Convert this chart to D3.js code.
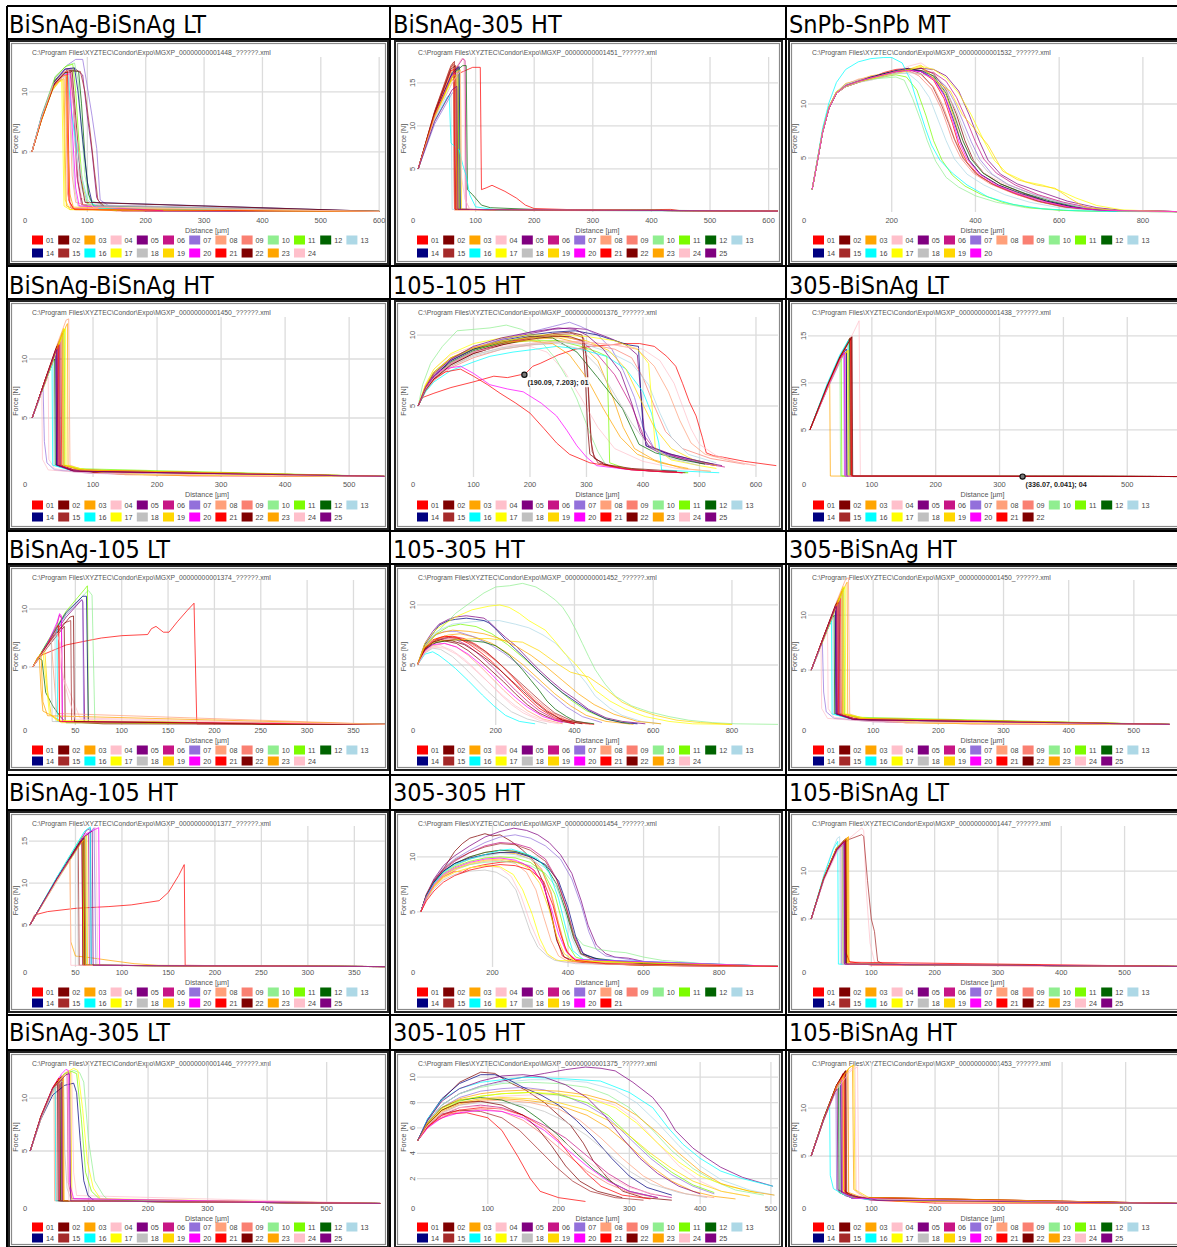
<!DOCTYPE html>
<html>
<head>
<meta charset="utf-8">
<script src="https://cdn.jsdelivr.net/npm/d3@7"></script>
<style>
body { margin: 0; background: #fff; }
svg { display: block; }
</style>
</head>
<body>
<div id="chart"></div>
<script>
// legend colours 01..25 (Condor default palette)
const seriesColors = ["#FF0000","#800000","#FFA500","#FFC0CB","#800080","#C71585","#9370DB","#FFA07A","#FA8072","#90EE90",
  "#7CFC00","#006400","#ADD8E6","#000080","#A52A2A","#00FFFF","#FFFF00","#C0C0C0","#FFD700","#FF00FF",
  "#FF0000","#800000","#FFA500","#FFC0CB","#800080"];

const panelTitles = ["BiSnAg-BiSnAg LT","BiSnAg-305 HT","SnPb-SnPb MT",
  "BiSnAg-BiSnAg HT","105-105 HT","305-BiSnAg LT",
  "BiSnAg-105 LT","105-305 HT","305-BiSnAg HT",
  "BiSnAg-105 HT","305-305 HT","105-BiSnAg LT",
  "BiSnAg-305 LT","305-105 HT","105-BiSnAg HT"];
const panelFiles = ["1448","1451","1532","1450","1376","1438","1374","1452","1450","1377","1454","1447","1446","1375","1453"];
const panelXMax = [610,616,903,556,639,592,384,917,580,383,956,597,598,510,595];
const panelYMax = [12.9,18.0,14.35,13.56,11.27,17.0,12.5,12.08,13.2,16.8,12.8,14.7,13.4,11.2,14.8];
const panelXTicks = [
  [0,100,200,300,400,500,600],[0,100,200,300,400,500,600],[0,200,400,600,800],
  [0,100,200,300,400,500],[0,100,200,300,400,500,600],[0,100,200,300,400,500],
  [0,50,100,150,200,250,300,350],[0,200,400,600,800],[0,100,200,300,400,500],
  [0,50,100,150,200,250,300,350],[0,200,400,600,800],[0,100,200,300,400,500],
  [0,100,200,300,400,500],[0,100,200,300,400,500],[0,100,200,300,400,500]];
const panelYTicks = [
  [5,10],[5,10,15],[5,10],
  [5,10],[5,10],[5,10,15],
  [5,10],[5,10],[5,10],
  [5,10,15],[5,10],[5,10],
  [5,10],[2,4,6,8,10],[5,10]];

// hover readouts visible in two panels
const markerPanel = [4, 5];
const markerPoint = [[190.09, 7.203], [336.07, 0.041]];
const markerText = ["(190.09, 7.203); 01", "(336.07, 0.041); 04"];

// curves: [distance µm, force N, ...] per series 01..n
const p01Curves = [
  [5,5,20,7.6,40,10.4,58,11.5,64,11.7,66,6,68,1,75,0.3,150,0.1,600,0.05],
  [5,5,22,7.9,42,10.6,60,11.6,72,11.6,78,8,84,2.5,92,0.6,160,0.1,600,0.05],
  [5,5,20,7.5,40,10.2,55,11,60,11.1,62,5,64,0.5,80,0.2,600,0.05],
  [5,5,22,7.8,45,10.8,65,11.9,72,12,76,9,82,4,90,1.2,110,0.3,230,0.1],
  [5,5,22,7.9,45,10.9,62,11.9,80,11.9,92,11.4,100,8,108,5,116,1.2,125,0.5,200,0.1,600,0.05],
  [5,5,20,7.6,40,10.4,58,11.4,70,11.7,76,9,82,3,90,0.6,600,0.05],
  [5,5,22,8.1,45,11.2,65,12.2,80,12.7,92,12.7,98,11,108,8,116,5.3,122,1,140,0.4,230,0.1,600,0.05],
  [5,5,20,7.6,42,10.5,60,11.6,66,11.8,70,8,74,3,80,0.8,130,0.2,600,0.05],
  [5,5,21,7.7,43,10.6,58,11.3,62,11.4,64,7,66,1.5,72,0.3,600,0.05],
  [5,5,22,8.1,45,11.3,65,12.2,78,12.4,84,11,90,7,96,3,104,1,150,0.2,600,0.05],
  [5,5,22,8.0,45,11.2,62,12.1,75,12.3,80,10,86,5.5,92,2.2,100,0.7,150,0.1],
  [5,5,22,7.9,45,10.9,65,11.8,85,11.7,90,9,96,4.5,102,1.5,110,0.5,600,0.05],
  [5,5,21,7.7,42,10.5,60,11.5,68,11.6,72,9,80,5,90,2,100,0.6,600,0.05],
  [5,5,22,8,45,11,62,11.9,78,12,84,10,92,6,100,2.5,108,0.8,600,0.05],
  [5,5,22,7.9,45,10.9,65,11.8,88,11.7,96,10,104,7,112,3.5,118,1,130,0.4,230,0.1],
  [5,5,20,7.7,42,10.6,58,11.5,66,11.6,72,8.5,80,6,90,3,100,1,120,0.3,600,0.05],
  [5,5,20,7.4,38,9.9,48,10.8,56,10.9,58,6,60,0.5,70,0.2,600,0.05],
  [5,5,21,7.6,42,10.4,58,11.2,66,11.3,72,7,78,2,84,0.5,600,0.05],
  [5,5,20,7.5,40,10.1,52,10.9,58,11,60,7,62,1,70,0.2,600,0.05],
  [5,5,21,7.7,42,10.5,60,11.4,70,11.5,74,7,80,2,86,0.5,230,0.1],
  [5,5,21,7.6,42,10.5,60,11.6,66,11.7,68,5,70,0.8,78,0.2,600,0.05],
  [5,5,22,7.8,44,10.7,62,11.6,74,11.7,80,8,88,3,96,0.8,600,0.05],
  [5,5,20,7.5,40,10.3,58,11.3,64,11.4,66,6,70,1.5,76,0.4,600,0.05],
  [5,5,20,7.7,42,10.7,62,11.7,68,11.8,74,9.5,82,6,90,3,98,1.2,110,0.4,600,0.05]];

const p02Curves = [
  [2,5,30,11,55,15,75,16.2,95,16.8,108,16.8,110,2.6,118,2.8,128,3.1,150,2.4,170,1.6,185,0.8,200,0.4,300,0.2,433,0.3,450,0.15,620,0.1],
  [2,5,30,11.6,58,16.8,62,17.2,64,0.3,620,0.1],
  [2,5,30,11.3,60,16.4,70,17,72,0.3,620,0.1],
  [2,5,30,11,60,16,76,17.8,80,17.8,82,1.5,90,0.3,620,0.1],
  [2,5,30,11.2,60,15.8,70,16.8,72,0.3,620,0.1],
  [2,5,30,11.1,60,16,78,17.8,82,17.6,84,0.3,620,0.1],
  [2,5,30,10.2,60,13.8,68,14.3,70,0.3,620,0.1],
  [2,5,30,11.6,55,16.5,62,17.4,64,0.2,620,0.1],
  [2,5,30,11.5,58,16.7,64,17.1,66,0.3,620,0.1],
  [2,5,30,11,60,15.8,72,16.6,74,0.3,620,0.1],
  [2,5,30,11,60,15.6,70,16,72,0.3,620,0.1],
  [2,5,30,11.2,60,16,78,17,84,17,86,2.6,95,2,110,0.8,125,0.5,200,0.3,620,0.1],
  [2,5,30,10.6,55,13.6,58,13.8,60,0.3,620,0.1],
  [2,5,30,11.3,60,16.2,72,16.9,74,0.3,620,0.1],
  [2,5,30,11.7,58,17,64,17.5,66,0.3,620,0.1],
  [2,5,30,10.6,52,13.4,55,13.5,58,8,65,7.6,72,7.2,78,5.5,84,4.2,90,2,100,0.6,140,0.2,620,0.1],
  [2,5,30,11,60,15.4,68,15.6,70,0.3,620,0.1],
  [2,5,30,10.8,60,15,66,15.3,68,0.3,620,0.1],
  [2,5,30,11.1,60,15.8,74,16.5,76,0.3,620,0.1],
  [2,5,30,11.2,60,15.9,66,16.2,68,0.3,620,0.1],
  [2,5,30,11.4,58,16.4,63,16.6,65,0.3,620,0.1],
  [2,5,30,11.5,58,16.6,66,17,68,0.3,620,0.1],
  [2,5,30,11.2,60,15.7,66,15.9,68,0.3,620,0.1],
  [2,5,30,10.8,60,15,74,16.4,76,4,82,1.5,90,0.3,620,0.1],
  [2,5,30,10.5,60,14.2,68,14.6,70,0.3,620,0.1]];

const p03Curves = [
  [10,2.1,22,4.7,35,7.5,50,9.7,68,11.1,90,11.7,120,12.2,150,12.4,180,12.9,210,13.2,240,13.3,270,13.0,300,12.2,325,10.5,345,8.2,360,6.2,380,4.6,410,3.3,450,2.4,500,1.6,560,0.9,620,0.45,700,0.15,800,0.05,900,0.03],
  [10,2.1,22,4.6,35,7.4,50,9.6,68,11.0,90,11.6,120,12.0,150,12.5,180,12.6,210,13.0,240,13.2,270,13.3,300,12.8,330,11.3,355,9.0,375,6.6,395,4.8,420,3.6,460,2.6,510,1.8,570,1.0,640,0.4,720,0.12,820,0.04,900,0.03],
  [10,2.1,22,4.6,35,7.5,50,9.7,68,11.1,90,11.9,120,12.2,150,12.6,180,12.8,210,13.1,240,13.0,270,13.4,300,12.5,330,10.8,350,8.6,365,6.5,385,4.7,415,3.4,455,2.5,505,1.7,565,1.0,630,0.4,710,0.12,900,0.03],
  [10,2.1,22,4.7,35,7.5,50,9.6,68,11.0,90,11.7,120,12.1,150,12.5,180,12.8,210,13.0,240,13.5,270,13.8,300,13.0,330,11.5,352,9.0,370,6.6,392,4.9,420,3.6,470,2.6,530,1.8,600,1.0,670,0.4,740,0.12,900,0.03],
  [10,2.1,22,4.6,35,7.4,50,9.6,68,11.0,90,11.6,120,12.0,150,12.3,180,12.6,210,12.9,240,13.1,270,13.3,300,13.2,330,12.6,360,11.2,385,9.0,410,6.5,430,4.8,460,3.5,500,2.6,560,1.8,620,1.0,690,0.4,760,0.12,900,0.03],
  [10,2.1,22,4.7,35,7.5,50,9.7,68,11.1,90,11.8,120,12.1,150,12.4,180,12.7,210,13.0,240,13.2,270,13.1,300,12.9,330,12.1,355,10.6,378,8.6,400,6.5,420,4.9,450,3.6,495,2.5,550,1.6,610,0.9,680,0.35,760,0.1,900,0.03],
  [10,2.1,22,4.6,35,7.4,50,9.6,68,11.0,90,11.7,120,12.1,150,12.3,180,12.7,210,12.9,240,13.2,270,13.0,300,12.6,330,11.6,350,10.2,370,8.4,390,6.5,410,4.9,440,3.5,480,2.5,540,1.6,600,0.9,670,0.35,750,0.1,900,0.03],
  [10,2.1,22,4.7,35,7.5,50,9.7,68,11.1,90,11.8,120,12.3,150,12.5,180,12.8,210,13.1,240,13.0,270,12.7,300,11.6,322,9.9,338,8.2,350,6.8,372,5.0,400,3.6,440,2.6,490,1.8,550,1.0,610,0.45,690,0.15,900,0.03],
  [10,2.1,22,4.6,35,7.4,50,9.6,68,11.0,90,11.7,120,12.1,150,12.5,180,12.7,210,12.9,240,13.1,265,12.6,295,11.4,318,9.6,333,8.0,345,6.6,365,5.0,395,3.6,435,2.6,485,1.8,545,1.0,610,0.45,690,0.15,900,0.03],
  [10,2.1,22,4.7,35,7.5,50,9.7,68,11.1,90,11.8,120,12.1,150,12.3,180,12.4,210,12.5,230,12.2,250,10.5,270,8.4,285,6.6,305,4.7,330,3.2,360,2.3,400,1.5,450,0.9,520,0.4,600,0.15,700,0.05,900,0.03],
  [10,2.1,22,4.7,35,7.5,50,9.7,68,11.1,90,11.7,120,12.1,150,12.3,180,12.5,210,12.7,235,12.5,260,11.3,282,8.9,300,6.6,320,4.8,345,3.4,375,2.4,415,1.6,465,0.9,530,0.4,610,0.15,700,0.05,900,0.03],
  [10,2.1,22,4.6,35,7.4,50,9.6,68,11.0,90,11.7,120,12.1,150,12.4,180,12.8,210,13.0,240,13.2,270,13.1,300,12.6,330,11.0,350,8.9,370,6.6,390,4.9,418,3.6,460,2.6,520,1.7,580,1.0,650,0.4,730,0.12,900,0.03],
  [10,2.1,22,4.7,35,7.5,50,9.7,68,11.1,90,11.8,120,12.2,150,12.4,180,12.6,210,12.9,240,12.8,265,12.0,290,10.6,310,8.6,330,6.6,350,4.9,380,3.5,420,2.5,470,1.6,530,0.9,600,0.4,680,0.12,900,0.03],
  [10,2.1,22,4.6,35,7.4,50,9.6,68,11.0,90,11.7,120,12.1,150,12.5,180,12.8,210,13.1,240,13.3,270,13.0,300,12.4,325,10.9,345,8.8,365,6.5,385,4.8,412,3.5,455,2.5,510,1.7,570,1.0,640,0.4,720,0.12,900,0.03],
  [10,2.1,22,4.6,35,7.4,50,9.6,68,11.0,90,11.6,120,12.0,150,12.4,180,12.7,210,13.0,240,13.2,270,12.8,298,11.6,320,9.8,336,8.2,350,6.7,370,5.0,400,3.6,440,2.6,490,1.8,550,1.0,615,0.45,700,0.15,900,0.03],
  [10,2.1,22,4.8,35,7.8,50,10.1,68,12.0,90,13.2,120,13.9,150,14.2,180,14.3,200,14.3,225,13.8,245,12.2,265,9.6,280,7.8,295,6.2,315,4.8,345,3.6,380,2.5,430,1.4,490,0.7,560,0.3,640,0.12,740,0.05,900,0.03],
  [10,2.1,22,4.6,35,7.4,50,9.6,68,11.0,90,11.6,120,12.0,150,12.3,180,12.6,210,12.8,240,13.1,270,13.5,300,13.2,330,12.4,360,11.0,390,9.0,420,6.6,445,4.8,475,3.6,520,2.8,560,2.5,600,2.0,640,1.3,690,0.6,750,0.2,850,0.05,900,0.03],
  [10,2.1,22,4.6,35,7.4,50,9.6,68,11.0,90,11.6,120,12.0,150,12.2,180,12.5,210,12.8,240,12.9,270,12.8,300,12.4,330,11.2,355,9.3,380,6.8,400,5.1,430,3.7,470,2.7,525,1.8,590,1.0,660,0.4,740,0.12,900,0.03],
  [10,2.1,22,4.7,35,7.5,50,9.7,68,11.1,90,11.7,120,12.1,150,12.4,180,12.7,210,13.0,240,13.2,270,13.6,306,12.1,340,11.2,369,9.0,400,7.6,430,6.2,465,3.8,500,3.0,545,2.5,590,2.2,624,1.3,664,0.4,744,0.1,900,0.03],
  [10,2.1,22,4.6,35,7.4,50,9.6,68,11.0,90,11.7,120,12.1,150,12.4,180,12.7,210,13.0,240,13.1,270,13.0,300,12.3,328,10.6,346,8.4,360,6.6,380,4.9,410,3.5,450,2.5,500,1.7,560,1.0,625,0.45,700,0.15,900,0.03]];

const p04Curves = [
  [5,5,25,8.1,45,11.2,50,11.8,51,1,70,0.6,120,0.3,250,0.1,555,0.05],
  [5,5,25,8.2,45,11.3,48,11.6,49,1,70,0.5,120,0.3,555,0.05],
  [5,5,25,8,45,11,58,12.8,60,13,61,1,80,0.6,150,0.2,555,0.05],
  [5,5,20,7.2,30,8.5,31,1.5,40,0.7,100,0.3,555,0.05],
  [5,5,25,8.1,40,10.5,42,10.8,43,1,70,0.5,555,0.05],
  [5,5,25,8.1,44,11,47,11.4,48,1,70,0.6,555,0.05],
  [5,5,15,6.4,22,7.6,24,3,28,1.2,40,0.6,100,0.3,555,0.05],
  [5,5,25,8.2,45,11.4,58,13.3,62,13.4,64,1,80,0.7,150,0.2,555,0.05],
  [5,5,25,8.1,45,11.2,53,12.4,54,1,80,0.6,555,0.05],
  [5,5,25,8.0,45,11.0,52,12.1,53,1,80,0.6,555,0.05],
  [5,5,25,8.1,45,11.1,55,12.5,56,1,80,0.7,555,0.05],
  [5,5,25,8,38,9.8,40,10,41,1,70,0.5,555,0.05],
  [5,5,25,8.1,36,9.6,38,9.8,39,1,70,0.5,555,0.05],
  [5,5,25,8.1,40,10.3,42,10.5,43,1,70,0.5,555,0.05],
  [5,5,25,8.2,45,11.2,46,11.3,47,1,70,0.6,555,0.05],
  [5,5,25,8.0,35,9.4,36,9.5,37,1,70,0.5,555,0.05],
  [5,5,25,8.0,45,11,56,12.5,57,12.6,58,1,90,0.6,180,0.2,555,0.05],
  [5,5,25,8.0,44,10.8,46,11,47,1,70,0.5,555,0.05],
  [5,5,25,8.0,45,11.1,54,12.6,55,1,80,0.6,555,0.05],
  [5,5,25,8.1,42,10.8,44,11,45,1,70,0.5,555,0.05],
  [5,5,25,8.2,44,11,46,11.2,47,1,70,0.5,555,0.05],
  [5,5,25,8.2,42,10.9,44,11.1,45,1,70,0.5,555,0.05],
  [5,5,25,8.1,45,11.1,52,12.2,53,1,80,0.6,555,0.05],
  [5,5,15,6.5,20,7.2,21,1.5,30,0.6,100,0.3,555,0.05],
  [5,5,25,8.1,40,10.4,43,10.8,44,1,70,0.5,555,0.05]];

const p05Curves = [
  [2,5,10,5.6,30,5.9,60,6.3,100,6.7,136,7.1,160,7.0,183,7.2,190,7.2,205,7.8,218,8.0,250,8.6,280,9.0,306,9.2,340,9.3,364,9.4,394,9.4,420,9.2,442,8.5,458,7.8,470,6.6,482,5.3,494,4.3,505,2.8,512,1.7,525,1.5,541,1.4,580,1.1,636,0.8],
  [2,5,15,6.1,30,6.9,60,7.9,100,8.7,150,9.3,200,9.8,240,10.1,270,10.2,292,10.0,300,8.5,304,5.5,308,2.5,314,1.3,340,0.8,366,0.6,420,0.4,470,0.3],
  [2,5,15,6.3,30,7.2,60,8.3,100,9.0,150,9.5,200,9.7,250,9.8,290,9.4,320,8.2,345,5.8,365,3.5,385,2,420,1.2,470,0.6,520,0.4],
  [2,5,15,6.5,30,7.6,60,8.6,100,9.2,150,9.4,200,9.2,230,8.8,260,7.5,290,5.6,320,3.5,350,2.0,400,1.1,460,0.6,520,0.4],
  [2,5,15,6.2,30,7.1,60,8.2,100,9.0,150,9.7,200,10.1,240,10.4,270,10.5,300,10.4,340,9.8,370,9.3,390,8.6,396,6.0,400,4.2,405,2.2,430,1.7,470,1.3,500,1.0,530,0.8],
  [2,5,15,6.2,30,7.0,60,8.0,100,8.8,150,9.4,200,9.8,250,10.0,290,9.6,320,8.6,350,7.2,380,5.0,400,3.0,420,2.0,460,1.4,500,1.0,545,0.7],
  [2,5,15,6.3,30,7.2,60,8.3,100,9.1,150,9.7,200,10.2,240,10.6,270,10.9,290,10.6,320,10.0,345,9.0,365,7.5,385,5.6,400,3.5,420,2.0,460,1.3,520,0.9],
  [2,5,15,6.1,30,6.9,60,7.8,100,8.6,150,9.1,200,9.4,250,9.6,300,9.5,350,9.3,390,9.0,420,7.8,445,6.0,465,4.0,485,2.4,510,1.6,560,1.1,600,0.8],
  [2,5,15,6.0,30,6.8,60,7.7,100,8.4,150,9.0,200,9.3,250,9.5,300,9.4,350,9.0,380,8.4,400,7.0,420,5.0,440,3.2,470,2.0,520,1.3,580,0.9],
  [2,5,10,6.5,24,8.0,45,9.2,71,10.3,100,10.4,129,10.5,158,10.7,185,10.4,205,10.0,225,9.3,246,8.3,265,7.0,283,5.5,306,3.1,320,1.8,335,0.8,380,0.5,480,0.3],
  [2,5,15,6.4,30,7.4,60,8.4,100,9.0,150,9.4,200,9.6,250,9.6,290,9.2,320,8.8,336,8.5,339,4.5,341,1.0,370,0.6,420,0.4,480,0.3],
  [2,5,15,6.2,30,7.1,60,8.1,100,8.9,150,9.5,200,9.9,240,9.8,283,8.8,320,7.0,364,4.8,393,2.3,422,1.7,470,1.2,510,0.9],
  [2,5,15,6.1,30,7.0,60,7.9,100,8.6,150,9.1,200,9.4,250,9.5,300,9.3,340,8.8,380,8.0,410,6.5,430,4.5,450,2.8,480,1.6,530,1.0],
  [2,5,15,6.2,30,7.1,60,8.2,100,9.0,150,9.6,200,10.0,240,10.2,280,10.3,320,10.0,350,9.6,375,9.3,392,9.2,396,6.0,400,3.6,406,2.2,440,1.7,480,1.3,525,0.9],
  [2,5,15,6.2,30,7.0,60,8.0,100,8.8,150,9.4,200,9.9,240,10.0,275,10.1,295,9.8,302,7.5,306,4.0,310,1.8,320,1.0,360,0.6,420,0.4,475,0.3],
  [2,5,15,6.0,30,6.7,60,7.5,100,8.1,129,8.5,170,8.8,210,9.0,247,9.2,290,9.0,335,8.5,370,7.6,400,6.0,415,4.5,428,2.4,433,0.5,480,0.4,535,0.3],
  [2,5,15,6.5,30,7.6,60,8.7,100,9.4,150,9.8,200,10.0,250,10.0,300,9.9,350,9.6,390,9.0,410,8.0,416,5.0,422,2.0,450,1.2,500,0.8,530,0.6],
  [2,5,15,6.1,30,6.9,60,7.8,100,8.5,150,9.0,200,9.3,250,9.4,290,9.0,320,7.8,350,5.8,380,3.8,410,2.2,450,1.3,500,0.8],
  [2,5,15,6.3,30,7.3,60,8.4,100,9.1,150,9.6,200,9.8,250,9.9,300,9.6,340,8.9,370,7.6,395,5.5,420,3.5,450,2.0,490,1.2,530,0.8],
  [2,5,15,6.3,30,7.1,41,7.5,60,7.7,77,7.8,100,7.3,129,6.5,160,6.2,188,6.0,220,5.2,247,4.3,265,3.3,283,2.2,300,1.4,318,0.8,380,0.5,470,0.3],
  [2,5,15,6.2,30,6.9,50,7.4,77,7.6,100,7.1,125,6.5,147,5.9,175,5.2,200,4.5,225,3.4,247,2.4,270,1.6,306,1.0,380,0.5,470,0.3],
  [2,5,15,6.1,30,6.9,60,7.9,100,8.7,150,9.3,200,9.7,240,9.9,270,9.9,293,9.6,298,7.0,302,3.5,306,1.6,330,0.9,380,0.6,460,0.4],
  [2,5,15,6.4,30,7.4,60,8.4,100,9.1,150,9.5,200,9.6,240,9.4,270,8.6,300,7.0,330,4.8,360,2.8,390,1.6,430,1.0,480,0.6],
  [2,5,15,6.2,30,7.0,60,8.0,100,8.8,150,9.2,200,9.4,250,9.5,300,9.5,350,9.3,400,9.0,430,8.2,455,6.6,470,5.0,485,3.4,500,2.3,530,1.5,570,1.0,600,0.8],
  [2,5,15,6.3,30,7.3,60,8.3,100,9.2,150,9.8,200,10.2,250,10.5,280,10.4,300,10.0,330,9.0,360,7.4,380,5.2,395,3.2,410,2.2,450,1.6,500,1.1,540,0.8]];

const p06Curves = [
  [3,5,30,9.6,50,12.7,66,14.8,67,0.1,592,0.05],
  [3,5,30,9.7,50,12.8,68,14.9,69,0.1,592,0.05],
  [3,5,20,8,34,10.2,35,0.1,592,0.05],
  [3,5,30,9.3,55,13.2,70,15.2,80,16.6,82,0.1,592,0.04],
  [3,5,30,9.5,50,12.5,60,13.3,61,0.1,592,0.05],
  [3,5,30,9.4,50,12.4,58,13.2,59,0.1,592,0.05],
  [3,5,30,9.3,50,12.2,56,13,57,0.1,592,0.05],
  [3,5,30,9.5,50,12.6,64,14.2,65,0.1,140,0.15,160,0.1,592,0.05],
  [3,5,30,9.6,50,12.7,66,14.6,68,0.1,592,0.05],
  [3,5,30,9.4,48,12.2,50,12.4,51,0.1,592,0.05],
  [3,5,30,9.5,48,12.3,52,12.8,53,0.1,592,0.05],
  [3,5,30,9.7,50,12.8,65,14.7,66,0.1,592,0.05],
  [3,5,30,9.8,50,12.9,62,14.2,63,0.1,592,0.05],
  [3,5,30,9.5,50,12.6,60,13.6,61,0.1,592,0.05],
  [3,5,30,9.6,50,12.7,67,14.8,68,0.1,592,0.05],
  [3,5,30,9.9,50,13,63,14.5,64,0.1,592,0.05],
  [3,5,30,9.4,50,12.4,62,13.4,63,0.1,592,0.05],
  [3,5,30,9.4,50,12.4,58,13,59,0.1,592,0.05],
  [3,5,30,9.4,50,12.5,63,13.5,64,0.1,592,0.05],
  [3,5,30,9.4,50,12.5,57,13.2,58,0.1,592,0.05],
  [3,5,30,9.6,50,12.7,67,14.7,68,0.1,592,0.05],
  [3,5,30,9.7,50,12.8,69,14.9,70,0.1,592,0.05]];

const p07Curves = [
  [4,5,10,5.9,40,6.9,65,7.3,78,7.5,100,7.7,128,7.8,132,8.3,137,8.5,145,8.0,151,8.0,160,8.9,171,9.9,178,10.5,181,0.1,385,0.05],
  [4,5,20,6.7,35,8.2,38,8.5,39,0.3,80,0.1,385,0.05],
  [4,5,9,5.8,11,5.9,13,3,15,1.2,25,0.8,35,0.3,385,0.05],
  [4,5,20,6.9,32,8.4,34,5,38,3.9,45,2.6,55,0.6,385,0.05],
  [4,5,20,7.0,40,9.3,57,10.8,58,10.6,60,0.3,385,0.05],
  [4,5,20,7.1,30,8.6,33,9.5,35,9.2,36,0.3,385,0.05],
  [4,5,20,7.1,40,9.5,56,10.8,58,10.7,59,0.3,385,0.05],
  [4,5,18,6.8,24,7.4,26,5,30,1,385,0.05],
  [4,5,20,7,30,8.3,32,8.5,33,0.3,385,0.05],
  [4,5,20,7.1,40,9.6,60,11.3,64,11.6,68,11.2,71,0.3,385,0.05],
  [4,5,20,7.2,40,9.8,60,11.7,63,12.0,64,0.3,265,0.1,275,0.05,385,0.05],
  [4,5,10,5.8,14,5.6,18,2.8,26,1.6,34,0.7,40,0.2,385,0.05],
  [4,5,18,6.8,26,7.8,28,8,29,0.3,385,0.05],
  [4,5,20,7.1,40,9.7,58,11.1,62,11.1,64,0.3,385,0.05],
  [4,5,20,7,38,8.8,45,9,46,0.3,385,0.05],
  [4,5,18,6.8,28,8.2,30,8.4,31,0.3,385,0.05],
  [4,5,12,6.1,15,6.4,18,4,22,1,30,0.4,385,0.05],
  [4,5,18,6.7,24,7.2,25,0.3,385,0.05],
  [4,5,14,6.3,17,6.5,20,3,24,0.8,35,0.2,385,0.05],
  [4,5,20,7.0,30,8.8,33,9.6,35,9.4,36,0.3,385,0.05],
  [4,5,20,7.0,30,8.4,32,8.6,33,0.3,385,0.05],
  [4,5,20,6.9,44,9.3,48,9.4,49,0.3,240,0.1,250,0.05,385,0.05],
  [4,5,10,5.8,13,6.1,15,2,20,0.8,385,0.05],
  [4,5,20,6.8,30,7.9,34,7,37,4,42,2.5,50,0.5,385,0.05]];

const p08Curves = [
  [1,5,20,6.3,40,7.0,60,7.3,90,7.4,120,7.2,150,6.7,180,6.0,210,5.1,240,4.1,270,3.0,300,2.0,330,1.2,360,0.6,400,0.2,450,0.05],
  [1,5,20,6.2,40,6.8,70,7.0,100,6.8,130,6.2,160,5.4,190,4.5,220,3.6,250,2.6,280,1.7,310,1.0,350,0.4,400,0.1],
  [1,5,20,6.4,50,7.2,80,7.5,110,7.6,150,7.3,190,6.8,230,6.0,270,5.0,310,3.8,350,2.6,390,1.6,430,0.8,480,0.3,550,0.05],
  [1,5,20,6.0,40,6.5,60,6.6,90,6.2,120,5.5,150,4.6,180,3.6,210,2.6,240,1.7,270,1.0,310,0.4,360,0.1],
  [1,5,20,6.8,40,7.8,56,8.4,80,8.8,98,9.0,125,9.1,149,9.0,170,8.9,183,8.6,205,7.9,225,7.3,251,6.6,280,5.6,310,4.6,340,3.7,369,2.9,400,2.2,436,1.3,480,0.6,521,0.3,580,0.1],
  [1,5,20,6.3,40,6.9,70,7.2,100,7.1,130,6.6,160,5.8,190,4.9,220,3.9,250,2.9,280,2.0,310,1.2,350,0.5,400,0.1],
  [1,5,20,6.5,40,7.4,70,7.8,100,7.8,140,7.4,180,6.8,220,6.0,260,5.0,300,3.8,340,2.6,380,1.5,420,0.7,470,0.2],
  [1,5,20,6.1,40,6.6,70,6.8,100,6.5,130,5.8,160,4.9,190,3.9,220,2.9,250,2.0,280,1.2,320,0.5,370,0.1],
  [1,5,20,6.3,40,7.0,70,7.3,100,7.2,130,6.9,160,6.3,190,5.6,220,4.8,250,3.8,280,2.8,310,1.9,340,1.1,380,0.4,430,0.1],
  [1,5,20,6.6,56,7.9,98,9.3,140,10.3,170,11.0,200,11.5,235,11.6,268,11.8,302,11.5,327,11.0,352,10.4,370,9.8,386,9.0,404,7.9,420,6.8,436,5.7,453,4.6,478,3.4,504,2.4,545,1.6,589,1.1,640,0.7,690,0.4,750,0.2,808,0.1,920,0.05],
  [1,5,20,6.5,50,7.6,80,8.2,110,8.4,150,8.2,190,7.6,230,6.7,270,5.6,310,4.4,350,3.2,390,2.1,430,1.2,480,0.5,540,0.1],
  [1,5,20,6.3,50,6.9,98,7.1,141,7.0,170,6.9,200,6.6,235,5.8,268,4.6,290,3.7,310,2.9,330,2.0,352,1.3,380,0.7,403,0.3,450,0.1],
  [1,5,20,6.6,50,7.8,90,8.4,140,8.6,180,8.7,209,8.7,250,8.4,284,8.1,320,7.5,352,6.8,380,5.8,402,4.6,430,3.5,453,2.4,490,1.4,521,0.8,570,0.3,620,0.1],
  [1,5,20,6.7,56,8.3,80,8.7,98,8.8,125,8.9,149,8.8,170,8.7,183,8.5,200,8.0,225,7.1,251,6.3,280,5.4,310,4.4,340,3.5,369,2.7,400,2.0,436,1.2,480,0.5,521,0.2,560,0.1],
  [1,5,20,6.4,50,7.1,80,7.3,110,7.2,140,6.8,170,6.2,200,5.4,230,4.5,260,3.6,290,2.7,320,1.8,350,1.0,390,0.4,440,0.1],
  [1,5,20,5.9,40,6.1,56,5.8,80,5.2,98,4.7,130,3.7,166,2.5,195,1.6,225,0.8,260,0.3,300,0.1],
  [1,5,20,6.8,50,8.0,98,9.0,140,9.6,183,9.9,210,10.0,234,9.8,260,9.3,284,8.7,305,8.3,326,7.9,350,7.0,377,5.9,402,5.1,430,4.0,453,2.9,490,2.0,530,1.3,580,0.7,640,0.3,700,0.1,800,0.05],
  [1,5,20,6.0,40,6.4,60,6.3,90,5.7,120,4.8,150,3.8,180,2.8,210,1.9,240,1.1,280,0.5,330,0.1],
  [1,5,20,6.5,50,7.0,100,7.1,150,7.2,183,7.2,230,7.0,268,6.9,310,6.2,352,5.2,390,4.4,436,4.0,480,3.0,521,1.9,560,1.3,606,0.8,660,0.4,720,0.2,800,0.05],
  [1,5,20,6.2,40,6.7,70,6.8,100,6.5,130,5.9,160,5.1,190,4.2,220,3.2,250,2.3,280,1.5,320,0.7,370,0.2],
  [1,5,20,6.4,40,7.1,70,7.4,100,7.3,130,6.8,160,6.1,190,5.3,220,4.3,250,3.3,280,2.3,310,1.4,350,0.6,400,0.1],
  [1,5,20,6.3,40,6.9,60,7.1,90,7.0,120,6.7,150,6.1,180,5.4,210,4.6,240,3.7,270,2.8,300,1.9,330,1.1,370,0.4,420,0.1],
  [1,5,20,6.6,50,7.6,90,7.9,130,7.8,170,7.6,210,7.2,250,6.6,290,5.8,330,4.8,370,3.7,410,2.6,450,1.7,500,0.9,560,0.3,620,0.1],
  [1,5,20,6.1,40,6.5,70,6.4,100,5.9,130,5.1,160,4.2,190,3.3,220,2.4,250,1.6,290,0.8,340,0.2]];

// 305-BiSnAg HT was exported from the same test file (1450) as BiSnAg-BiSnAg HT
const p09Curves = p04Curves;

const p10Curves = [
  [1,5,6,6.2,20,6.6,51,7.0,86,7.2,110,7.4,122,7.6,140,7.9,150,8.9,161,10.9,167,12.2,168,0.2,260,0.1,384,0.05],
  [1,5,30,10.5,55,14.9,60,15.3,61,0.2,384,0.05],
  [1,5,30,10.3,44,13.0,45,3,50,1.3,60,1.2,86,0.8,113,0.4,139,0.2,384,0.05],
  [1,5,30,10.4,60,15.6,72,16.6,74,0.2,384,0.05],
  [1,5,30,10.6,62,16.3,66,16.5,67,0.2,384,0.05],
  [1,5,30,10.5,60,15.5,64,15.9,65,0.2,384,0.05],
  [1,5,30,10.4,60,15.4,70,16.6,72,0.2,384,0.05],
  [1,5,30,10.3,55,14.7,58,15.1,59,0.2,384,0.05],
  [1,5,30,10.4,56,14.9,59,15.3,60,0.2,384,0.05],
  [1,5,30,10.5,57,15.2,61,15.6,62,0.2,384,0.05],
  [1,5,30,10.6,56,15.4,58,15.6,59,0.2,384,0.05],
  [1,5,30,10.6,55,15.0,58,15.3,59,0.2,384,0.05],
  [1,5,30,10.7,60,16.2,65,16.6,66,0.2,384,0.05],
  [1,5,30,10.5,54,14.7,57,15.1,58,0.2,384,0.05],
  [1,5,30,10.4,50,14.0,53,14.4,54,0.2,384,0.05],
  [1,5,30,10.7,60,16.2,66,16.7,67,0.2,384,0.05],
  [1,5,30,10.3,55,14.6,58,15.0,59,0.2,384,0.05],
  [1,5,30,10.2,50,13.8,52,14.0,53,0.2,384,0.05],
  [1,5,30,10.4,55,14.8,62,15.7,63,0.2,384,0.05],
  [1,5,30,10.5,60,15.8,75,16.6,76,0.2,270,0.1,384,0.05],
  [1,5,30,10.4,55,14.8,57,15.0,58,0.2,384,0.05],
  [1,5,30,10.5,55,14.9,59,15.4,60,0.2,384,0.05],
  [1,5,30,10.4,55,14.7,60,15.2,61,0.2,384,0.05],
  [1,5,30,10.3,40,12.2,44,12.8,45,0.2,384,0.05],
  [1,5,30,10.5,60,15.6,68,16.2,69,0.2,384,0.05]];

const p11Curves = [
  [10,5,25,6.2,45,7.3,70,8.2,100,8.7,120,8.6,140,9.0,180,9.3,220,9.5,250,9.6,280,9.4,310,8.8,335,7.4,355,5.0,370,2.6,385,1.0,410,0.5,470,0.3,560,0.2,700,0.1,960,0.05],
  [10,5,25,6.5,45,7.8,70,8.9,100,10.5,120,11.2,140,11.7,160,11.9,180,12.1,200,11.9,220,12.0,250,11.4,280,10.6,310,9.6,335,7.6,355,4.8,370,2.4,390,0.9,420,0.5,500,0.3,600,0.15,960,0.05],
  [10,5,25,6.4,45,7.6,70,8.5,100,9.2,140,9.8,180,10.2,220,10.4,260,10.3,300,9.8,330,8.8,355,6.8,375,4.0,392,1.8,410,0.8,450,0.4,560,0.2,960,0.05],
  [10,5,25,6.2,45,7.2,70,8.0,100,8.6,140,9.0,180,9.2,220,9.0,250,8.2,275,6.5,300,4.0,325,2.0,350,1.0,380,0.5,450,0.3,960,0.05],
  [10,5,25,6.6,45,8.0,70,9.2,100,10.1,140,11.0,180,11.8,220,12.3,256,12.6,290,12.4,320,12.0,350,11.3,380,10.2,410,8.5,435,6.0,453,3.8,475,2.0,500,1.2,524,0.9,560,0.8,600,0.5,700,0.2,960,0.05],
  [10,5,25,6.5,45,7.8,70,8.8,100,9.6,140,10.4,180,11.0,220,11.3,260,11.2,300,10.8,340,9.8,370,8.0,395,5.5,415,3.0,435,1.4,460,0.8,520,0.5,600,0.3,960,0.05],
  [10,5,25,6.6,45,7.9,70,9.0,100,9.8,140,10.6,180,11.3,220,11.8,260,12.0,300,11.7,340,11.0,380,9.8,410,8.0,435,5.6,455,3.2,475,1.6,500,1.0,540,0.8,600,0.5,960,0.05],
  [10,5,25,6.3,45,7.4,70,8.2,100,8.8,140,9.3,180,9.6,220,9.7,260,9.4,290,8.6,315,7.0,335,4.6,355,2.4,375,1.0,400,0.5,960,0.05],
  [10,5,25,6.5,45,7.7,70,8.6,100,9.4,140,10.0,180,10.4,220,10.6,260,10.5,300,10.0,330,8.9,355,6.6,375,3.8,393,1.6,415,0.7,470,0.4,960,0.05],
  [10,5,25,6.3,45,7.5,70,8.3,100,8.9,140,9.3,180,9.5,220,9.6,260,9.5,300,9.2,340,8.5,370,7.2,395,5.0,415,3.0,440,2.0,480,1.6,520,1.4,553,1.3,600,0.9,650,0.6,693,0.5,760,0.3,960,0.05],
  [10,5,25,6.4,45,7.6,70,8.5,100,9.1,140,9.6,180,9.9,220,10.0,260,9.9,300,9.5,335,8.6,365,6.6,385,4.0,400,2.0,420,0.9,460,0.5,960,0.05],
  [10,5,25,6.5,45,7.7,70,8.7,100,9.4,140,10.0,180,10.4,220,10.6,260,10.5,300,10.1,340,9.2,370,7.5,395,5.0,415,2.6,435,1.2,470,0.8,520,0.6,600,0.3,960,0.05],
  [10,5,25,6.4,45,7.6,70,8.5,100,9.2,140,9.8,180,10.1,220,10.3,260,10.2,300,9.8,340,9.0,370,7.4,392,5.0,410,2.6,430,1.2,470,0.6,960,0.05],
  [10,5,25,6.5,45,7.7,70,8.7,100,9.4,140,9.9,180,10.2,220,10.4,260,10.4,300,10.0,340,9.3,375,7.8,400,5.4,420,2.8,440,1.2,480,0.7,540,0.5,960,0.05],
  [10,5,25,6.6,45,7.9,70,8.9,100,9.7,140,10.4,180,10.9,220,11.2,260,11.1,300,10.6,340,9.6,370,7.9,395,5.4,415,2.8,433,1.2,470,0.6,960,0.05],
  [10,5,25,6.4,45,7.6,70,8.6,100,9.3,140,9.8,180,10.2,220,10.6,250,10.7,280,10.4,320,9.8,350,8.6,375,6.2,395,3.4,412,1.5,440,0.7,960,0.05],
  [10,5,25,6.2,45,7.3,70,8.1,100,8.6,140,9.0,180,9.2,220,9.1,255,8.4,280,7.0,305,4.8,325,2.6,345,1.2,370,0.6,960,0.05],
  [10,5,25,6.1,45,7.1,70,7.9,100,8.4,140,8.7,180,8.8,210,8.6,240,8.0,262,7.0,280,5.2,300,3.2,320,1.8,345,1.0,365,0.6,420,0.3,960,0.05],
  [10,5,25,6.3,45,7.4,70,8.3,100,8.9,140,9.4,180,9.7,220,9.8,260,9.6,295,9.0,325,7.6,350,5.2,370,2.8,390,1.2,415,0.6,960,0.05],
  [10,5,25,6.3,45,7.5,70,8.4,100,9.0,140,9.5,180,9.8,220,9.9,260,9.7,300,9.1,330,7.8,355,5.4,375,3.0,395,1.4,420,0.7,960,0.05],
  [10,5,25,6.0,45,6.9,70,7.7,100,8.3,140,8.8,180,9.1,220,9.3,260,9.2,300,8.8,335,7.8,360,5.6,380,3.0,398,1.3,420,0.6,500,0.3,960,0.05]];

const p12Curves = [
  [5,5,25,9.2,45,12.2,57,13.2,58,2,62,0.6,100,0.2,597,0.05],
  [5,5,25,9.3,45,12.4,60,13.4,61,0.3,597,0.05],
  [5,5,25,9.3,45,12.3,62,13.5,63,0.3,597,0.05],
  [5,5,25,9.1,45,12.0,65,13.4,85,14.5,88,14.2,92,8,98,2.5,105,0.5,597,0.05],
  [5,5,25,9.2,45,12.2,55,13.0,56,0.3,597,0.05],
  [5,5,25,9.2,45,12.2,58,13.2,59,0.3,597,0.05],
  [5,5,25,9.1,45,12.0,52,12.6,53,0.3,597,0.05],
  [5,5,25,9.2,45,12.1,60,13.1,61,0.3,597,0.05],
  [5,5,25,9.3,45,12.3,62,13.4,63,0.3,597,0.05],
  [5,5,25,9.2,45,12.2,56,13.0,57,0.3,597,0.05],
  [5,5,25,9.2,45,12.1,54,12.8,55,0.3,597,0.05],
  [5,5,25,9.3,45,12.3,58,13.2,59,0.3,597,0.05],
  [5,5,25,9.6,40,12.4,46,13.4,50,13.6,51,0.3,597,0.05],
  [5,5,25,9.3,45,12.3,59,13.3,60,0.3,597,0.05],
  [5,5,25,9.2,45,12.2,65,13.3,85,13.8,88,13.6,94,9,100,5,105,3.7,110,0.6,120,0.3,597,0.05],
  [5,5,25,9.5,40,12.3,47,13.1,48,0.3,597,0.05],
  [5,5,25,9.2,45,12.2,61,13.3,62,0.3,597,0.05],
  [5,5,25,9.1,45,12.0,55,12.8,56,0.3,597,0.05],
  [5,5,25,9.3,45,12.3,63,13.5,64,0.3,597,0.05],
  [5,5,25,9.2,45,12.1,57,13.0,58,0.3,597,0.05],
  [5,5,25,9.2,45,12.2,59,13.2,60,1.5,66,0.5,597,0.05],
  [5,5,25,9.3,45,12.3,60,13.3,61,0.3,597,0.05],
  [5,5,25,9.3,45,12.4,64,13.6,65,0.3,597,0.05],
  [5,5,25,9.0,45,11.8,53,12.5,54,0.3,597,0.05],
  [5,5,25,9.2,45,12.2,57,13.1,58,0.3,597,0.05]];

const p13Curves = [
  [2,5,20,8.2,40,10.8,50,11.7,52,11.8,53,0.3,590,0.05],
  [2,5,20,8.3,40,11.0,55,12.1,56,0.3,590,0.05],
  [2,5,20,8.2,40,10.9,58,12.2,59,0.3,590,0.05],
  [2,5,20,8.1,40,10.8,60,12.4,70,12.6,72,12.2,75,3,80,0.8,590,0.05],
  [2,5,20,8.2,40,10.9,54,12.0,55,0.3,590,0.05],
  [2,5,20,8.2,40,10.9,60,12.3,64,12.4,66,2,72,0.5,590,0.05],
  [2,5,20,8.1,40,10.7,50,11.5,51,0.3,590,0.05],
  [2,5,20,8.0,35,10.1,42,10.8,43,0.3,590,0.05],
  [2,5,20,8.1,35,10.2,45,11.0,46,0.3,590,0.05],
  [2,5,20,8.2,40,10.9,60,12.3,75,12.6,85,12.4,92,11.5,100,6,110,2.2,125,0.8,135,0.3,590,0.05],
  [2,5,20,8.2,40,10.9,60,12.3,72,12.5,80,12.3,88,8,95,3,105,1.2,120,0.4,590,0.05],
  [2,5,20,8.2,40,10.8,52,11.7,53,0.3,590,0.05],
  [2,5,20,8.1,40,10.7,48,11.3,49,0.3,590,0.05],
  [2,5,20,8.0,40,10.3,60,11.2,75,11.4,80,10.5,86,6,92,2.2,99,0.8,110,0.3,590,0.05],
  [2,5,20,8.2,40,10.9,56,12.0,57,0.3,590,0.05],
  [2,5,20,8.1,38,10.6,44,11.0,45,0.3,590,0.05],
  [2,5,20,8.2,40,10.9,62,12.4,75,12.8,82,12.6,90,9,98,4,108,1.5,120,0.5,590,0.05],
  [2,5,20,8.0,40,10.6,55,11.6,58,11.5,60,5,64,1.5,70,0.5,590,0.05],
  [2,5,20,8.1,40,10.8,62,12.2,70,12.4,72,0.3,590,0.05],
  [2,5,20,8.2,40,11.0,55,12.3,62,12.7,66,12.6,68,2,75,0.5,590,0.05],
  [2,5,20,8.3,40,11.0,50,11.9,51,0.3,590,0.05],
  [2,5,20,8.2,40,10.9,48,11.6,49,0.3,590,0.05],
  [2,5,20,8.2,40,10.9,57,12.1,58,0.3,590,0.05],
  [2,5,20,8.1,40,10.8,60,12.2,65,12.3,67,0.3,590,0.05],
  [2,5,20,8.2,40,10.9,62,12.2,68,12.3,70,0.3,590,0.05]];

const p14Curves = [
  [1,5,10,5.8,25,6.5,47,7.1,70,7.2,100,6.8,120,5.8,143,3.7,160,2.0,174,1.0,200,0.5,238,0.2],
  [1,5,15,6.6,35,8.2,60,9.6,90,10.4,110,10.3,130,9.6,153,9.0,180,8.0,200,7.0,217,6.2,235,4.8,249,3.4,270,2.0,291,1.0,320,0.5,360,0.3],
  [1,5,15,6.2,35,7.3,60,7.9,90,8.2,120,8.3,150,8.2,180,8.0,210,7.6,240,7.0,270,6.0,300,4.6,330,3.0,360,1.8,390,1.0,420,0.6,450,0.4],
  [1,5,15,6.3,35,7.4,60,8.0,90,8.3,120,8.5,160,8.6,200,8.6,240,8.4,280,7.8,310,6.6,340,4.8,370,3.0,400,1.8,430,1.0,470,0.6],
  [1,5,15,6.5,35,7.8,60,8.7,90,9.3,120,9.7,150,10.0,180,10.3,210,10.6,238,10.8,260,10.7,280,10.5,305,9.6,333,8.4,350,7.2,365,5.8,390,4.4,410,3.6,429,2.9,460,2.1,503,1.4],
  [1,5,15,6.1,35,7.0,60,7.6,90,7.8,120,7.6,150,7.0,180,6.2,210,5.2,240,3.8,270,2.4,300,1.4,330,0.8,360,0.5],
  [1,5,15,6.4,35,7.6,60,8.4,90,8.9,120,9.1,150,9.2,180,9.0,210,8.5,240,7.8,270,6.8,300,5.2,330,3.6,360,2.3,390,1.4,420,0.8],
  [1,5,15,6.2,35,7.2,60,7.8,90,8.1,120,8.2,160,8.0,200,7.5,230,6.6,260,5.2,290,3.6,320,2.2,350,1.3,380,0.8,420,0.5],
  [1,5,15,6.0,35,6.9,60,7.3,90,7.5,120,7.3,150,6.6,180,5.4,210,4.0,240,2.6,270,1.6,300,0.9,340,0.5],
  [1,5,15,6.5,35,7.8,60,8.7,90,9.2,120,9.5,160,9.6,200,9.5,240,9.2,270,8.6,300,7.6,330,6.0,360,4.2,390,2.8,420,1.8,450,1.1,490,0.7],
  [1,5,15,6.3,35,7.4,60,8.1,90,8.5,120,8.7,160,8.8,200,8.6,240,8.0,270,7.0,300,5.4,330,3.8,360,2.5,390,1.5,420,0.9],
  [1,5,15,6.4,35,7.6,60,8.2,90,8.4,120,8.2,150,7.6,175,6.6,200,5.4,225,4.0,250,2.7,275,1.7,300,1.0,340,0.5],
  [1,5,15,6.5,35,7.8,60,8.7,90,9.3,120,9.6,160,9.8,200,9.8,240,9.6,280,9.0,310,8.0,340,6.4,370,4.6,400,3.0,430,1.9,470,1.1,505,0.7],
  [1,5,15,6.7,35,8.3,60,9.5,90,10.2,110,10.2,130,9.8,150,9.2,175,8.6,200,7.8,225,6.6,250,5.2,275,3.6,300,2.2,325,1.3,360,0.7],
  [1,5,15,6.2,35,7.1,60,7.4,90,7.3,120,6.8,145,5.8,170,4.4,195,3.0,220,1.8,245,1.0,280,0.5,320,0.3],
  [1,5,15,6.7,35,8.2,60,9.1,90,9.6,120,9.8,153,10.0,200,9.9,259,9.7,300,8.8,333,7.6,355,6.0,376,4.7,400,3.6,429,2.6,460,2.0,503,1.4],
  [1,5,15,6.4,35,7.5,60,8.2,90,8.5,120,8.7,160,8.8,200,8.7,240,8.4,280,7.6,310,6.4,340,4.8,370,3.3,400,2.2,440,1.4,480,0.9],
  [1,5,15,6.2,35,7.2,60,7.8,90,8.0,120,8.0,150,7.8,180,7.3,210,6.5,240,5.4,270,4.0,300,2.6,330,1.6,370,0.9,410,0.5],
  [1,5,15,6.3,35,7.4,60,8.0,90,8.3,120,8.4,160,8.3,200,8.0,240,7.4,270,6.6,300,5.4,330,4.0,360,2.8,390,1.8,430,1.0,470,0.6],
  [1,5,15,6.0,35,6.8,60,7.2,90,7.4,120,7.3,150,6.8,180,5.8,210,4.4,240,3.0,270,1.8,300,1.0,340,0.5],
  [1,5,15,6.1,35,7.0,60,7.4,90,7.6,120,7.5,150,7.0,180,6.0,200,5.0,220,3.6,240,2.4,260,1.4,290,0.7,330,0.4],
  [1,5,15,6.3,35,7.4,60,8.0,90,8.1,120,7.8,150,7.0,170,6.0,190,4.6,210,3.0,230,1.8,255,1.0,290,0.5],
  [1,5,15,6.4,35,7.6,60,8.3,90,8.7,120,8.9,160,9.0,200,8.9,240,8.6,280,8.0,310,7.0,340,5.6,370,4.0,400,2.6,430,1.6,470,1.0,505,0.7],
  [1,5,15,6.2,35,7.2,60,7.6,90,7.7,120,7.5,150,6.9,180,6.0,210,4.8,240,3.4,270,2.2,300,1.3,340,0.7],
  [1,5,15,6.6,35,8.1,60,9.1,90,9.7,120,10.1,150,10.2,180,10.0,210,9.4,240,8.4,265,7.0,290,5.2,315,3.6,340,2.4,370,1.4,400,0.8]];

const p15Curves = [
  [5,5,25,8.9,45,12.3,55,13.6,56,1.5,70,0.8,100,0.4,200,0.1,590,0.05],
  [5,5,25,9.0,45,12.4,58,13.8,59,1.2,75,0.7,110,0.4,590,0.05],
  [5,5,25,8.9,45,12.3,65,14.2,70,14.4,72,1.5,90,0.7,140,0.3,590,0.05],
  [5,5,25,8.8,45,12.0,60,13.6,74,14.4,76,1.2,100,0.5,590,0.05],
  [5,5,25,8.9,45,12.2,52,13.0,53,1.2,70,0.6,590,0.05],
  [5,5,25,8.9,45,12.2,54,13.2,55,1.2,70,0.7,590,0.05],
  [5,5,25,8.8,40,11.2,44,11.6,45,1.5,60,0.8,100,0.4,590,0.05],
  [5,5,25,8.8,45,12.1,62,13.9,64,1,80,0.6,590,0.05],
  [5,5,25,8.9,45,12.2,56,13.4,57,1.2,75,0.6,590,0.05],
  [5,5,25,8.9,45,12.2,50,12.8,51,1.2,70,0.6,590,0.05],
  [5,5,25,9.0,45,12.3,53,13.2,54,1.2,70,0.6,590,0.05],
  [5,5,25,8.9,45,12.2,48,12.6,49,1.2,70,0.6,590,0.05],
  [5,5,25,9.0,45,12.3,50,12.9,51,1.2,70,0.6,590,0.05],
  [5,5,25,8.9,45,12.2,51,12.9,52,1.2,70,0.6,590,0.05],
  [5,5,25,9.0,45,12.4,60,13.9,61,1,80,0.6,590,0.05],
  [5,5,25,8.9,34,10.5,35,3,40,1.6,55,1.0,90,0.5,590,0.05],
  [5,5,25,8.8,45,12.0,55,13.1,56,1.2,75,0.7,590,0.05],
  [5,5,25,8.8,45,12.0,50,12.6,51,1.2,70,0.6,590,0.05],
  [5,5,25,8.9,45,12.2,65,14.2,72,14.5,74,1.5,95,0.7,150,0.3,590,0.05],
  [5,5,25,8.9,45,12.2,53,13.1,54,1.2,70,0.6,590,0.05],
  [5,5,25,8.9,45,12.3,57,13.6,58,1.2,75,0.7,590,0.05],
  [5,5,25,9.0,45,12.4,59,13.9,60,1.2,80,0.7,590,0.05],
  [5,5,25,8.9,45,12.3,63,14.0,64,1.2,85,0.7,590,0.05],
  [5,5,25,8.8,45,11.9,66,13.8,78,14.3,80,1,100,0.5,590,0.05],
  [5,5,25,8.8,42,11.6,46,12.0,47,1.5,65,0.9,110,0.4,590,0.05]];

const panelCurves = [p01Curves,p02Curves,p03Curves,p04Curves,p05Curves,p06Curves,p07Curves,p08Curves,
  p09Curves,p10Curves,p11Curves,p12Curves,p13Curves,p14Curves,p15Curves];

// ---------- layout ----------
const W = 1177, H = 1247;
const rows = [
  { top: 6,    titleBot: 39,   base: 33,   frameTop: 41,   frameBot: 264,  plotTop: 57,   plotBot: 212,  tickY: 223,  axisY: 233,  leg1: 240,  leg2: 253 },
  { top: 266,  titleBot: 299,  base: 294,  frameTop: 301,  frameBot: 529,  plotTop: 317,  plotBot: 477,  tickY: 487,  axisY: 497,  leg1: 505,  leg2: 517 },
  { top: 531,  titleBot: 564,  base: 558,  frameTop: 566,  frameBot: 770,  plotTop: 580,  plotBot: 725,  tickY: 733,  axisY: 743,  leg1: 750,  leg2: 761 },
  { top: 775,  titleBot: 810,  base: 801,  frameTop: 812,  frameBot: 1012, plotTop: 826,  plotBot: 967,  tickY: 975,  axisY: 985,  leg1: 992,  leg2: 1003 },
  { top: 1015, titleBot: 1050, base: 1041, frameTop: 1052, frameBot: 1247, plotTop: 1062, plotBot: 1204, tickY: 1211, axisY: 1221, leg1: 1227, leg2: 1238 }
];
const cols = [
  { left: 7,   right: 390,  frameL: 9,   frameR: 388,  plotL: 29,  plotR: 385,  titleX: 9,   legX: 32 },
  { left: 390, right: 786,  frameL: 395, frameR: 782,  plotL: 417, plotR: 778,  titleX: 393, legX: 417 },
  { left: 786, right: 1200, frameL: 789, frameR: 1190, plotL: 808, plotR: 1186, titleX: 789, legX: 813 }
];

const svg = d3.select("#chart").append("svg")
  .attr("width", W)
  .attr("height", H)
  .style("font-family", "'Liberation Sans', Arial, sans-serif");

const defs = svg.append("defs");

function toPoints(flat) {
  return d3.range(0, flat.length, 2).map(k => [flat[k], flat[k + 1]]);
}

function boxesOverlap(a, b) {
  return a.x < b.x + b.width && b.x < a.x + a.width && a.y < b.y + b.height && b.y < a.y + a.height;
}

function DrawPanel(i) {
  const r = rows[Math.floor(i / 3)];
  const c = cols[i % 3];

  // title cell
  svg.append("text")
    .attr("x", c.titleX)
    .attr("y", r.base)
    .style("font-family", "'DejaVu Sans Condensed', 'DejaVu Sans', sans-serif")
    .style("font-stretch", "condensed")
    .style("font-size", "25px")
    .attr("fill", "#000")
    .text(panelTitles[i]);

  // chart frame (screenshot border)
  svg.append("rect")
    .attr("x", c.frameL).attr("y", r.frameTop)
    .attr("width", c.frameR - c.frameL).attr("height", r.frameBot - r.frameTop)
    .attr("fill", "#fff").attr("stroke", "#222").attr("stroke-width", 2);
  svg.append("rect")
    .attr("x", c.frameL + 2.5).attr("y", r.frameTop + 2.5)
    .attr("width", c.frameR - c.frameL - 5).attr("height", r.frameBot - r.frameTop - 5)
    .attr("fill", "none").attr("stroke", "#8a8a8a").attr("stroke-width", 1.2);

  const x = d3.scaleLinear().domain([0, panelXMax[i]]).range([c.plotL, c.plotR]);
  const y = d3.scaleLinear().domain([0, panelYMax[i]]).range([r.plotBot, r.plotTop]);

  const g = svg.append("g");

  // file path
  g.append("text")
    .attr("x", c.frameL + 23)
    .attr("y", r.frameTop + 14)
    .style("font-size", "6.8px")
    .attr("fill", "#555")
    .text(`C:\\Program Files\\XYZTEC\\Condor\\Expo\\MGXP_0000000000${panelFiles[i]}_??????.xml`);

  // gridlines
  g.selectAll(".vgrid")
    .data(panelXTicks[i].filter(d => d > 0))
    .join("line")
    .attr("x1", d => x(d)).attr("x2", d => x(d))
    .attr("y1", r.plotTop).attr("y2", r.plotBot)
    .attr("stroke", "#dcdcdc").attr("stroke-width", 1.3);

  g.selectAll(".hgrid")
    .data(panelYTicks[i])
    .join("line")
    .attr("x1", c.plotL).attr("x2", c.plotR)
    .attr("y1", d => y(d)).attr("y2", d => y(d))
    .attr("stroke", "#dcdcdc").attr("stroke-width", 1.3);

  // x tick labels
  const xLabels = g.selectAll(".xtick")
    .data(panelXTicks[i])
    .join("text")
    .attr("class", "xtick")
    .attr("x", d => d === 0 ? x(d) - 4 : x(d))
    .attr("y", r.tickY)
    .attr("text-anchor", "middle")
    .style("font-size", "7.5px")
    .attr("fill", "#555")
    .text(d => d);

  // y tick labels (rotated like the original)
  g.selectAll(".ytick")
    .data(panelYTicks[i])
    .join("text")
    .attr("transform", d => `translate(${c.plotL - 2},${y(d)}) rotate(-90)`)
    .attr("text-anchor", "middle")
    .style("font-size", "7.5px")
    .attr("fill", "#555")
    .text(d => d);

  g.append("text")
    .attr("transform", `translate(${c.plotL - 11},${(r.plotTop + r.plotBot) / 2 + 4}) rotate(-90)`)
    .attr("text-anchor", "middle")
    .style("font-size", "7.2px")
    .attr("fill", "#555")
    .text("Force [N]");

  g.append("text")
    .attr("x", (c.plotL + Math.min(c.plotR, W)) / 2 - (i % 3 === 2 ? 10 : 0))
    .attr("y", r.axisY)
    .attr("text-anchor", "middle")
    .style("font-size", "7.2px")
    .attr("fill", "#555")
    .text("Distance [\u00b5m]");

  // curves
  const clipId = `clip${i}`;
  defs.append("clipPath").attr("id", clipId)
    .append("rect")
    .attr("x", c.plotL).attr("y", r.plotTop - 4)
    .attr("width", c.plotR - c.plotL).attr("height", r.plotBot - r.plotTop + 6);

  const line = d3.line()
    .x(p => x(p[0]))
    .y(p => y(p[1]));

  g.append("g")
    .attr("clip-path", `url(#${clipId})`)
    .selectAll("path")
    .data(panelCurves[i])
    .join("path")
    .attr("d", d => line(toPoints(d)))
    .attr("fill", "none")
    .attr("stroke", (d, k) => seriesColors[k])
    .attr("stroke-width", 1)
    .attr("stroke-opacity", 0.72)
    .attr("stroke-linejoin", "round");

  // hover readout; in the original it sits on top of the tick label it covers
  const m = markerPanel.indexOf(i);
  if (m >= 0) {
    const [mx, my] = markerPoint[m];
    const lbl = g.append("g");
    const t = lbl.append("text")
      .attr("x", x(mx) + 3).attr("y", y(my) + 10)
      .style("font-size", "7.2px").style("font-weight", "bold")
      .attr("fill", "#222")
      .text(markerText[m]);
    const bb = t.node().getBBox();
    lbl.insert("rect", "text")
      .attr("x", bb.x - 1).attr("y", bb.y - 0.5)
      .attr("width", bb.width + 2).attr("height", bb.height + 1)
      .attr("fill", "#fff").attr("fill-opacity", 0.92);
    xLabels.filter(function () { return boxesOverlap(this.getBBox(), bb); }).remove();
    g.append("circle")
      .attr("cx", x(mx)).attr("cy", y(my)).attr("r", 2.6)
      .attr("fill", "#777").attr("stroke", "#111").attr("stroke-width", 1.2);
  }

  // legend, 13 items per row
  const n = panelCurves[i].length;
  const items = d3.range(n);
  const leg = g.selectAll(".leg")
    .data(items)
    .join("g")
    .attr("transform", k => `translate(${c.legX + (k % 13) * 26.2},${(k < 13 ? r.leg1 : r.leg2) - 4.5})`);
  leg.append("rect")
    .attr("width", 11).attr("height", 9)
    .attr("fill", k => seriesColors[k]);
  leg.append("text")
    .attr("x", 14).attr("y", 7.5)
    .style("font-size", "7.2px")
    .attr("fill", "#444")
    .text(k => d3.format("02d")(k + 1));
}

d3.range(15).forEach(DrawPanel);

// table borders
const hLines = [6, 39, 266, 299, 531, 564, 775, 810, 1015, 1050];
svg.selectAll(".hline")
  .data(hLines)
  .join("line")
  .attr("x1", 7).attr("x2", W)
  .attr("y1", d => d).attr("y2", d => d)
  .attr("stroke", "#000").attr("stroke-width", 2);
svg.selectAll(".vline")
  .data([7, 390, 786])
  .join("line")
  .attr("x1", d => d).attr("x2", d => d)
  .attr("y1", 6).attr("y2", H)
  .attr("stroke", "#000").attr("stroke-width", 2);
</script>
</body>
</html>
